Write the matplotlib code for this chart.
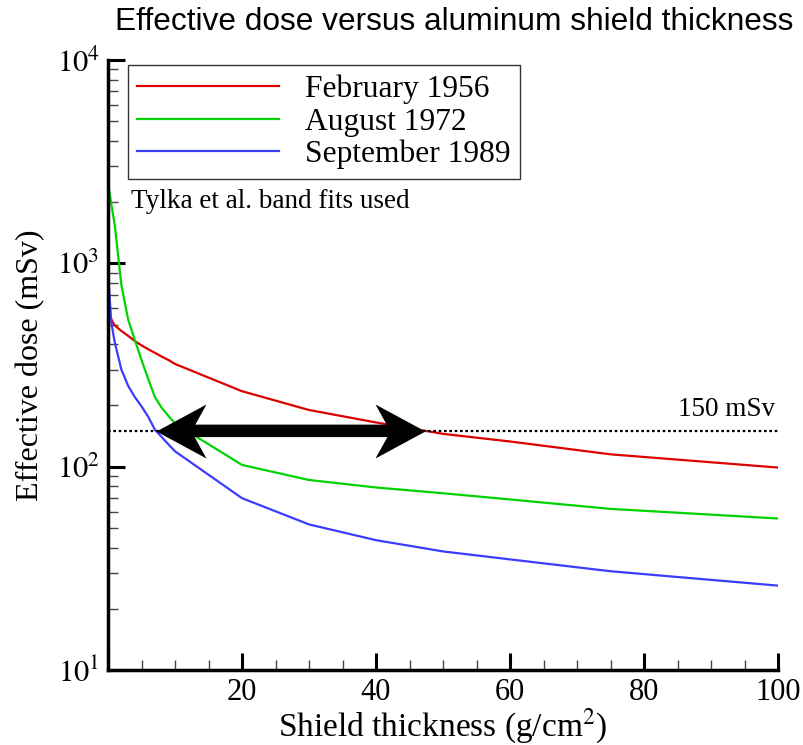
import numpy as np
import matplotlib
matplotlib.use("Agg")
import matplotlib.pyplot as plt
from matplotlib.path import Path
from matplotlib.ticker import FixedLocator, LogLocator, NullFormatter

# shield thickness (g/cm^2)
thickness = [0, 0.5, 1, 2, 3, 4, 5, 6, 7, 8, 9, 10, 20, 30, 40, 50, 60, 75, 100]

# effective dose (mSv)
dose_1956 = [580, 530, 495, 465, 440, 415, 395, 378, 363, 348, 335, 320,
             235, 190, 165, 145, 133, 115, 99]
dose_1972 = [2500, 1950, 1550, 780, 530, 420, 335, 270, 220, 195, 178, 163,
             102, 86, 79, 74, 69, 62, 55.6]
dose_1989 = [900, 510, 410, 300, 250, 220, 198, 176, 152, 140, 129, 119,
             70, 52, 43.5, 38.3, 35, 30.6, 26]

labels = ["February 1956", "August 1972", "September 1989"]
colors = ["#dd0000", "#00d400", "#3c3cff"]
limit = 150  # mSv

plt.rcParams["font.family"] = ["Liberation Serif", "DejaVu Serif"]
plt.rcParams["mathtext.fontset"] = "stix"

fig = plt.figure(figsize=(8.04, 7.45), dpi=100)
ax = fig.add_axes([108 / 804, 1 - 670 / 745, 670 / 804, 610 / 745])

for y, lab, c in zip([dose_1956, dose_1972, dose_1989], labels, colors):
    ax.plot(thickness, y, color=c, lw=1.6, label=lab)

ax.set_yscale("log")
ax.set_xlim(0, 100)
ax.set_ylim(10, 1e4)

# 150 mSv limit line
ax.plot([0, 100], [limit, limit], color="black", ls=(0, (1.2, 1.2)), lw=1.6)
ax.text(99.5, limit * 1.27, "150 mSv", ha="right", va="center", fontsize=19.5)

# double arrow between where the 1989 and 1956 curves cross 150 mSv
x = np.array(thickness, dtype=float)
x_left = np.interp(np.log(limit), np.log(dose_1989[::-1]), x[::-1])
x_right = np.interp(np.log(limit), np.log(dose_1956[::-1]), x[::-1])
ax.annotate("", xy=(x_right, limit), xytext=(x_left, limit),
            arrowprops=dict(arrowstyle="-", lw=9, color="black",
                            shrinkA=24, shrinkB=24))
head_r = Path([(0, 0), (-50, 27), (-35, 0), (-50, -27), (0, 0)],
              [Path.MOVETO, Path.LINETO, Path.LINETO, Path.LINETO, Path.CLOSEPOLY])
head_l = Path([(0, 0), (50, 27), (35, 0), (50, -27), (0, 0)],
              [Path.MOVETO, Path.LINETO, Path.LINETO, Path.LINETO, Path.CLOSEPOLY])
ax.plot([x_right], [limit], marker=head_r, ms=72, color="black", mew=0)
ax.plot([x_left], [limit], marker=head_l, ms=72, color="black", mew=0)

# axes styling
for side in ["top", "right"]:
    ax.spines[side].set_visible(False)
for side in ["left", "bottom"]:
    ax.spines[side].set_linewidth(2.5)

ax.xaxis.set_major_locator(FixedLocator([0, 20, 40, 60, 80, 100]))
ax.xaxis.set_minor_locator(FixedLocator(np.arange(0, 101, 5)))
ax.set_xticklabels(["", "20", "40", "60", "80", "100"])
ax.yaxis.set_major_locator(FixedLocator([10, 100, 1000, 10000]))
ax.set_yticklabels(["$10^{1}$", "$10^{2}$", "$10^{3}$", "$10^{4}$"])
ax.yaxis.set_minor_locator(LogLocator(base=10, subs=np.arange(2, 10)))
ax.yaxis.set_minor_formatter(NullFormatter())

ax.tick_params(which="major", direction="in", length=12, width=2.2,
               labelsize=22, pad=6)
ax.tick_params(which="minor", direction="in", length=7, width=1.0, color="#444444")
ax.tick_params(top=False, right=False, which="both")

ax.set_xlabel("Shield thickness (g/cm$^2$)", fontsize=24)
ax.xaxis.set_label_coords(0.5, -0.061)
ax.set_ylabel("Effective dose (mSv)", fontsize=23, labelpad=8)

leg = ax.legend(loc="upper left", bbox_to_anchor=(0.0299, 0.991), fontsize=22.7,
                handlelength=4.5, handletextpad=0.8, labelspacing=0.1,
                fancybox=False, framealpha=1, borderpad=0.3, borderaxespad=0)
leg.get_frame().set_edgecolor("#333333")
leg.get_frame().set_linewidth(1.0)

ax.text(0.0343, 0.768, "Tylka et al. band fits used", transform=ax.transAxes,
        fontsize=19.5, va="center")

fig.text(0.565, 0.970, "Effective dose versus aluminum shield thickness",
         family="Liberation Sans", fontsize=22.8, ha="center", va="center")

fig.savefig("out.png", dpi=100)
